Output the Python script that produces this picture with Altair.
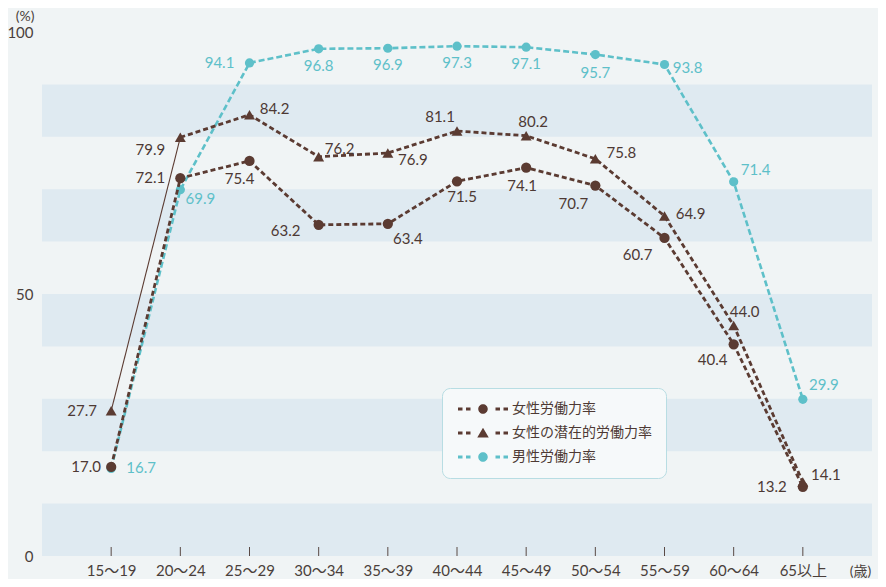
import altair as alt
import pandas as pd

# ---- data ----
categories = ["15〜19", "20〜24", "25〜29", "30〜34", "35〜39", "40〜44",
              "45〜49", "50〜54", "55〜59", "60〜64", "65以上"]
female = [17.0, 72.1, 75.4, 63.2, 63.4, 71.5, 74.1, 70.7, 60.7, 40.4, 13.2]
potential = [27.7, 79.9, 84.2, 76.2, 76.9, 81.1, 80.2, 75.8, 64.9, 44.0, 14.1]
male = [16.7, 69.9, 94.1, 96.8, 96.9, 97.3, 97.1, 95.7, 93.8, 71.4, 29.9]
series_names = ["女性労働力率", "女性の潜在的労働力率", "男性労働力率"]
y_ticks = [0, 50, 100]
band_lo = [0, 20, 40, 60, 80]
band_hi = [10, 30, 50, 70, 90]

# ---- label placement (pixel offsets from each point) ----
female_dx = [-25, -30, -10, -33, 20, 5, -4, -22, -27, -21, -31]
female_dy = [0, 0, 18, 6, 15, 16, 18, 18, 17, 16, 0]
potential_dx = [-29, -30, 25, 21, 25, -17, 7, 26, 26, 11, 23]
potential_dy = [0, 13, -6, -8, 7, -14, -14, -6, -2, -13, -7]
male_dx = [30, 20, -30, 0, 0, 0, 0, 0, 23, 22, 21]
male_dy = [0, 9, 0, 17, 17, 17, 17, 18, 4, -12, -14]

PLOT_W = 830
PLOT_H = 524
TICK_LEN = 9  # inward x-axis tick length, px

BROWN = "#5b3b32"
BROWN_TXT = "#4d3934"
TEAL = "#5ec0c9"
AXIS_TXT = "#4a3f3b"
FONT = "Lato, Noto Sans CJK JP"


def series_df(name, vals, dx, dy):
    return pd.DataFrame({
        "cat": categories,
        "idx": list(range(len(categories))),
        "series": name,
        "value": vals,
        "label": [f"{v:.1f}" for v in vals],
        "dx": dx,
        "dy": dy,
    })


df_f = series_df(series_names[0], female, female_dx, female_dy)
df_p = series_df(series_names[1], potential, potential_dx, potential_dy)
df_m = series_df(series_names[2], male, male_dx, male_dy)
df_bands = pd.DataFrame({"lo": band_lo, "hi": band_hi})
df_cats = pd.DataFrame({"cat": categories})
df_leg = pd.DataFrame({"series": series_names})

x_axis = alt.Axis(
    title="(歳)", ticks=False, domain=False, grid=False, labelAngle=0,
    labelPadding=7, labelFont=FONT, labelFontSize=15, labelColor=AXIS_TXT,
    titleX=818, titleY=15, titleAlign="center", titleBaseline="middle",
    titleFont=FONT, titleFontSize=14, titleFontWeight="normal",
    titleColor=AXIS_TXT,
)
y_axis = alt.Axis(
    values=y_ticks, tickSize=0, domain=False, grid=False, labelPadding=9,
    labelFont=FONT, labelFontSize=15, labelColor=AXIS_TXT,
    title="(%)", titleAngle=0, titleX=-8, titleY=-16, titleAlign="right",
    titleBaseline="middle", titleFont=FONT, titleFontSize=14,
    titleFontWeight="normal", titleColor=AXIS_TXT,
)
x_scale = alt.Scale(type="point", domain=categories, padding=1)
y_scale = alt.Scale(domain=[0, 100], nice=False, zero=True)

x_enc = alt.X("cat:N", scale=x_scale, axis=x_axis, sort=categories)
y_enc = alt.Y("value:Q", scale=y_scale, axis=y_axis)

bands = alt.Chart(df_bands).mark_rect(color="#dfeaf1").encode(
    y=alt.Y("lo:Q", scale=y_scale, axis=y_axis), y2="hi:Q"
)

# inward category ticks at the bottom of the plot
ticks = alt.Chart(df_cats).mark_rule(color="#5a4a45", strokeWidth=1).encode(
    x=x_enc,
    y=alt.datum(0, scale=y_scale),
    y2=alt.datum(100 * TICK_LEN / PLOT_H),
)


def dashed_line(df, color, width, dash):
    return alt.Chart(df).mark_line(
        color=color, strokeWidth=width, strokeDash=dash
    ).encode(x=x_enc, y=y_enc, order="idx:Q")


def labels(df, color):
    return alt.Chart(df).transform_calculate(
        ly=f"datum.value - datum.dy * 100 / {PLOT_H}"
    ).mark_text(
        font=FONT, fontSize=15, color=color, align="center", baseline="middle"
    ).encode(
        x=x_enc,
        y=alt.Y("ly:Q", scale=y_scale, axis=y_axis),
        text="label:N",
        xOffset=alt.XOffset("dx:Q", scale=None),
    )


male_line = dashed_line(df_m, TEAL, 2.6, [6, 3])
male_pts = alt.Chart(df_m).mark_circle(color=TEAL, size=85, opacity=1).encode(x=x_enc, y=y_enc)

female_line = dashed_line(df_f, BROWN, 2.8, [5, 3])
female_pts = alt.Chart(df_f).mark_circle(color=BROWN, size=105, opacity=1).encode(x=x_enc, y=y_enc)

pot_solid = alt.Chart(df_p).transform_filter("datum.idx <= 1").mark_line(
    color=BROWN, strokeWidth=1.1
).encode(x=x_enc, y=y_enc, order="idx:Q")
pot_dashed = alt.Chart(df_p).transform_filter("datum.idx >= 1").mark_line(
    color=BROWN, strokeWidth=2.8, strokeDash=[5, 3]
).encode(x=x_enc, y=y_enc, order="idx:Q")
pot_pts = alt.Chart(df_p).mark_point(
    shape="triangle-up", color=BROWN, filled=True, size=120, opacity=1
).encode(x=x_enc, y=y_enc)

# legend symbols: "- -●- -" and "- -▲- -" drawn as custom symbol paths
dashes = ("M-1,-0.28H-0.1V0.28H-1Z M0.6,-0.28H1.5V0.28H0.6Z "
          "M6.5,-0.28H7.4V0.28H6.5Z M8.1,-0.28H9V0.28H8.1Z ")
circle_sym = dashes + "M3.05,0A0.95,0.95 0 1,0 4.95,0A0.95,0.95 0 1,0 3.05,0Z"
tri_sym = dashes + "M4,-1.05L5.15,0.9L2.85,0.9Z"

leg = alt.Legend(
    title=None, orient="none", legendX=400, legendY=356,
    fillColor="#f6f9fa", strokeColor="#b8dde3", cornerRadius=8, padding=14,
    symbolSize=100, symbolStrokeWidth=0, symbolOffset=0, labelOffset=42,
    labelFont=FONT, labelFontSize=14, labelColor=BROWN_TXT, labelLimit=300,
    rowPadding=10,
)
legend_layer = alt.Chart(df_leg).transform_filter("false").mark_point(
    filled=True, opacity=1
).encode(
    color=alt.Color("series:N", scale=alt.Scale(domain=series_names, range=[BROWN, BROWN, TEAL]), legend=leg),
    shape=alt.Shape("series:N", scale=alt.Scale(domain=series_names, range=[circle_sym, tri_sym, circle_sym]), legend=leg),
)

chart = alt.layer(
    bands, ticks,
    male_line, male_pts,
    female_line, female_pts,
    pot_solid, pot_dashed, pot_pts,
    labels(df_f, BROWN_TXT), labels(df_p, BROWN_TXT), labels(df_m, TEAL),
    legend_layer,
).properties(
    width=PLOT_W, height=PLOT_H,
    autosize=alt.AutoSizeParams(type="none"),
    padding={"left": 34, "top": 24, "right": 6, "bottom": 23},
).configure(
    background="#f0f4f5",
).configure_view(
    fill="#edf3f6", stroke=None,
)

chart.save("out.html", embed_options={"renderer": "svg", "actions": False})
